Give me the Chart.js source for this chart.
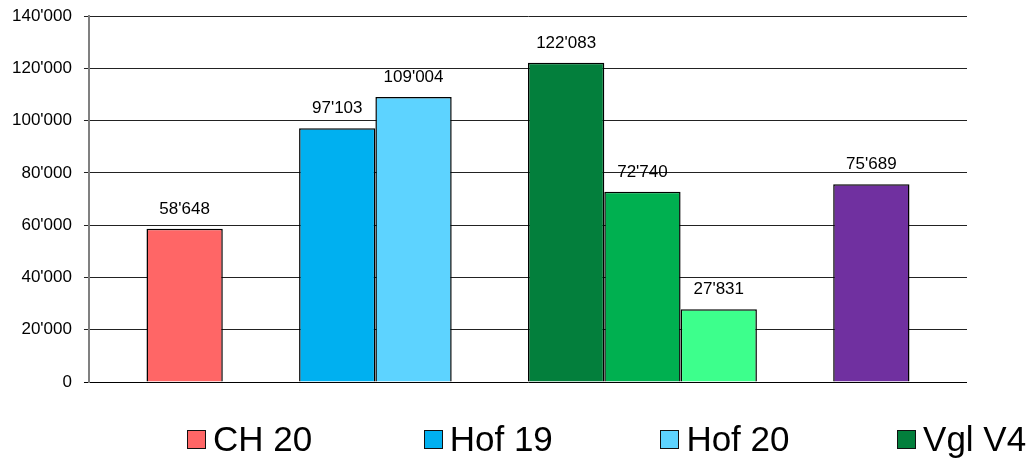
<!DOCTYPE html>
<html>
<head>
<meta charset="utf-8">
<script src="https://cdn.jsdelivr.net/npm/chart.js@4"></script>
<style>
  body { margin: 0; background: #fff; }
  #wrap { position: relative; width: 1031px; height: 459px; overflow: hidden; }
  #legend {
    position: absolute; left: 187px; top: 419px; right: 0;
    display: flex; white-space: nowrap; overflow: hidden;
    font-family: 'Liberation Sans', Arial, sans-serif; font-size: 35px; line-height: 40px; color: #000;
  }
  #legend .item { flex: 0 0 236.7px; display: flex; align-items: center; }
  #legend .box { width: 17px; height: 17px; border: 1px solid #111; margin-right: 7px; }
</style>
</head>
<body>
<div id="wrap">
  <canvas id="myChart"></canvas>
  <div id="legend"></div>
</div>
<script>
const seriesLabels = ['CH 20', 'Hof 19', 'Hof 20', 'Vgl V4', 'Vgl V5', 'Vgl V6', 'Vgl V7'];
const seriesValues = [58648, 97103, 109004, 122083, 72740, 27831, 75689];
const seriesGroups = [0, 1, 1, 2, 2, 2, 3];
const seriesColors = ['#FF6666', '#00B0F0', '#5DD3FF', '#037F3C', '#00B050', '#3DFF8C', '#7030A0'];
const yMax = 140000;
const yStep = 20000;

function fmt(v) {
  return String(v).replace(/\B(?=(\d{3})+(?!\d))/g, "'");
}

// one category, one dataset per series, an empty dataset between groups
var datasets = [];
for (var i = 0; i < seriesLabels.length; i++) {
  if (i > 0 && seriesGroups[i] !== seriesGroups[i - 1]) {
    datasets.push({ label: '', data: [null], spacer: true });
  }
  datasets.push({
    label: seriesLabels[i],
    data: [seriesValues[i]],
    backgroundColor: seriesColors[i],
    borderColor: '#000',
    borderWidth: 1.5
  });
}

const valueLabels = {
  id: 'valueLabels',
  afterDatasetsDraw(chart) {
    const ctx = chart.ctx;
    ctx.save();
    ctx.font = '17px "Liberation Sans", Arial, sans-serif';
    ctx.fillStyle = '#000';
    ctx.textAlign = 'center';
    ctx.textBaseline = 'alphabetic';
    chart.data.datasets.forEach((ds, di) => {
      const meta = chart.getDatasetMeta(di);
      meta.data.forEach((el, j) => {
        const v = ds.data[j];
        if (v == null) return;
        ctx.fillText(fmt(v), el.x, el.y - 15);
      });
    });
    ctx.restore();
  }
};

const htmlLegend = {
  id: 'htmlLegend',
  afterUpdate(chart) {
    const box = document.getElementById('legend');
    box.innerHTML = '';
    chart.data.datasets.forEach(ds => {
      if (ds.spacer) return;
      const item = document.createElement('div');
      item.className = 'item';
      const sw = document.createElement('span');
      sw.className = 'box';
      sw.style.background = ds.backgroundColor;
      const txt = document.createElement('span');
      txt.textContent = ds.label;
      item.appendChild(sw);
      item.appendChild(txt);
      box.appendChild(item);
    });
  }
};

const ctx = document.getElementById('myChart');
new Chart(ctx, {
  type: 'bar',
  data: { labels: [''], datasets: datasets },
  options: {
    responsive: true,
    maintainAspectRatio: false,
    animation: false,
    categoryPercentage: 0.869,
    barPercentage: 1,
    layout: { padding: { left: 0, top: 16, right: 64, bottom: 77 } },
    plugins: {
      legend: { display: false },
      tooltip: { enabled: false }
    },
    scales: {
      x: { display: false },
      y: {
        min: 0,
        max: yMax,
        afterFit: s => { s.paddingTop = 0; },
        ticks: {
          stepSize: yStep,
          padding: 12,
          color: '#000',
          font: { family: 'Liberation Sans', size: 17, lineHeight: 1 },
          callback: v => fmt(v)
        },
        grid: {
          color: c => c.tick.value === 0 ? '#000' : '#222',
          lineWidth: 1,
          tickLength: 5
        },
        border: { color: '#808080', width: 2 }
      }
    }
  },
  plugins: [valueLabels, htmlLegend]
});
</script>
</body>
</html>
